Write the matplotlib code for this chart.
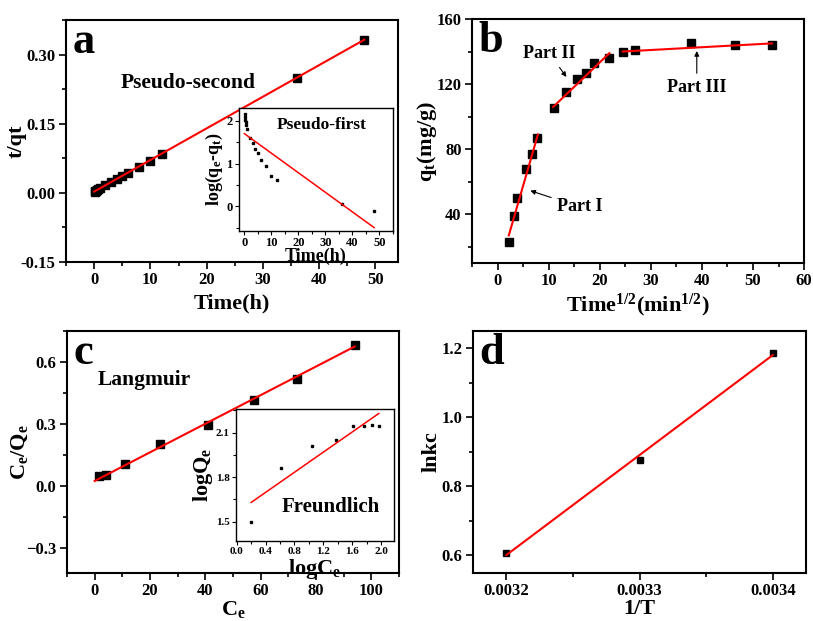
import matplotlib
matplotlib.use("Agg")
import matplotlib.pyplot as plt
from matplotlib.ticker import MultipleLocator
import numpy as np

plt.rcParams['font.family'] = ['Liberation Serif', 'DejaVu Serif']
plt.rcParams['font.weight'] = 'bold'
plt.rcParams['axes.labelweight'] = 'bold'
plt.rcParams['mathtext.fontset'] = 'custom'
plt.rcParams['mathtext.rm'] = 'Liberation Serif:bold'
plt.rcParams['mathtext.it'] = 'Liberation Serif:bold'
plt.rcParams['mathtext.bf'] = 'Liberation Serif:bold'
plt.rcParams['mathtext.default'] = 'rm'

###############################################################################
# données

# a) cinétique pseudo-second ordre
t_h = [0.083, 0.167, 0.25, 0.5, 0.75, 1, 2, 3, 4, 5, 6, 8, 10, 12, 36, 48]
t_qt = [0.003, 0.004, 0.005, 0.006, 0.008, 0.010, 0.017, 0.024, 0.030, 0.036,
        0.043, 0.057, 0.070, 0.084, 0.250, 0.333]
fit2_x = [0, 48]
fit2_y = [0.003, 0.333]

# encart a) pseudo-premier ordre
log_qe_qt = [2.15, 2.1, 2.03, 1.97, 1.9, 1.8, 1.6, 1.48, 1.35, 1.25,
             1.08, 0.95, 0.70, 0.62, 0.05, -0.10]
fit1_x = [0, 48]
fit1_y = [1.70, -0.50]

# b) diffusion intra-particulaire
sqrt_t = [2.24, 3.16, 3.87, 5.48, 6.71, 7.75, 10.95, 13.42, 15.49, 17.32,
          18.97, 21.91, 24.49, 26.83, 37.95, 46.48, 53.67]
qt = [23, 39, 50, 68, 77, 87, 105, 115, 123, 127, 133, 136, 140, 141, 145, 144, 144]
part1_x = [2.2, 7.9]
part1_y = [27, 89]
part2_x = [10.9, 21.9]
part2_y = [106, 139]
part3_x = [24.5, 53.7]
part3_y = [140, 145]

# c) Langmuir
ce = [1.5, 4, 11, 23.5, 41, 57.5, 73, 94]
ce_qe = [0.05, 0.055, 0.105, 0.205, 0.295, 0.415, 0.52, 0.68]
lang_x = [0, 94]
lang_y = [0.025, 0.675]

# encart c) Freundlich
log_ce = [0.2, 0.61, 1.04, 1.37, 1.61, 1.76, 1.87, 1.97]
log_qe = [1.50, 1.86, 2.01, 2.05, 2.145, 2.145, 2.15, 2.145]
freu_x = [0.2, 1.97]
freu_y = [1.63, 2.23]

# d) thermodynamique
inv_T = [0.0032, 0.0033, 0.0034]
lnkc = [0.605, 0.877, 1.186]
vh_x = [0.0032, 0.0034]
vh_y = [0.600, 1.180]

###############################################################################

def style(ax, lw=1.5, size=12, major=5, minor=3, pad=3.5):
    for s in ax.spines.values():
        s.set_linewidth(lw)
    ax.tick_params(which='both', direction='out', top=False, right=False,
                   width=lw * 0.8, labelsize=size, pad=pad)
    ax.tick_params(which='major', length=major)
    ax.tick_params(which='minor', length=minor)

fig = plt.figure(figsize=(8.13, 6.21), dpi=100)

# ---- a
ax = fig.add_axes([0.0812, 0.5781, 0.4083, 0.3897])
ax.plot(t_h, t_qt, 's', color='k', ms=6)
ax.plot(fit2_x, fit2_y, color='red', lw=1.5)
ax.set_xlim(-5, 54)
ax.set_ylim(-0.15, 0.376)
ax.xaxis.set_major_locator(MultipleLocator(10))
ax.xaxis.set_minor_locator(MultipleLocator(5))
ax.yaxis.set_minor_locator(MultipleLocator(0.075))
ax.set_yticks([-0.15, 0.0, 0.15, 0.30])
ax.set_yticklabels(['-0.15', '0.00', '0.15', '0.30'])
style(ax, pad=2.5)
ax.set_xlabel('Time(h)', fontsize=16)
ax.set_ylabel('t/qt', fontsize=16)
ax.yaxis.set_label_coords(-0.12, 0.5)
ax.text(0.02, 0.99, 'a', transform=ax.transAxes, fontsize=32, va='top')
ax.text(16.8, 0.24, 'Pseudo-second', fontsize=15.5, ha='center', va='center')

ins = fig.add_axes([0.294, 0.628, 0.1894, 0.198])
ins.plot(t_h, log_qe_qt, 's', color='k', ms=1.8)
ins.plot(fit1_x, fit1_y, color='red', lw=1.1)
ins.set_xlim(-2, 55)
ins.set_ylim(-0.58, 2.3)
ins.xaxis.set_major_locator(MultipleLocator(10))
ins.xaxis.set_minor_locator(MultipleLocator(5))
ins.yaxis.set_major_locator(MultipleLocator(1))
ins.yaxis.set_minor_locator(MultipleLocator(0.5))
style(ins, lw=1.0, size=9, major=3, minor=2, pad=1.5)
ins.set_xlabel('Time(h)', fontsize=13, labelpad=-1)
ins.set_ylabel('log(q$_e$-q$_t$)', fontsize=13, labelpad=1)
ins.text(28.4, 1.9, 'Pseudo-first', fontsize=12.5, ha='center', va='center')

# ---- b
ax = fig.add_axes([0.5806, 0.5765, 0.4084, 0.3929])
ax.plot(sqrt_t, qt, 's', color='k', ms=6)
for xx, yy in [(part1_x, part1_y), (part2_x, part2_y), (part3_x, part3_y)]:
    ax.plot(xx, yy, color='red', lw=1.5)
ax.set_xlim(-5, 60)
ax.set_ylim(10, 160)
ax.xaxis.set_major_locator(MultipleLocator(10))
ax.xaxis.set_minor_locator(MultipleLocator(5))
ax.yaxis.set_major_locator(MultipleLocator(40))
ax.yaxis.set_minor_locator(MultipleLocator(20))
style(ax, pad=2.5)
ax.set_xlabel('Time$^{1/2}$(min$^{1/2}$)', fontsize=16, labelpad=2)
ax.set_ylabel('q$_t$(mg/g)', fontsize=16)
ax.yaxis.set_label_coords(-0.1, 0.5)
ax.text(0.02, 0.99, 'b', transform=ax.transAxes, fontsize=32, va='top')
arr = dict(arrowstyle='-|>', color='k', lw=0.8, mutation_scale=7)
ax.annotate('Part I', xy=(5.9, 55), xytext=(16, 44.5), fontsize=13,
            ha='center', va='center', arrowprops=arr)
ax.annotate('Part II', xy=(13.8, 123), xytext=(10.2, 138.5), fontsize=13,
            ha='center', va='center', arrowprops=arr)
ax.annotate('Part III', xy=(39, 142), xytext=(39, 118), fontsize=13,
            ha='center', va='center', arrowprops=arr)

# ---- c
ax = fig.add_axes([0.0824, 0.0773, 0.4084, 0.3897])
ax.plot(ce, ce_qe, 's', color='k', ms=6)
ax.plot(lang_x, lang_y, color='red', lw=1.5)
ax.set_xlim(-10, 110)
ax.set_ylim(-0.42, 0.75)
ax.xaxis.set_major_locator(MultipleLocator(20))
ax.xaxis.set_minor_locator(MultipleLocator(10))
ax.yaxis.set_major_locator(MultipleLocator(0.3))
ax.yaxis.set_minor_locator(MultipleLocator(0.15))
style(ax, pad=2.5)
ax.set_xlabel('C$_e$', fontsize=16, labelpad=0)
ax.set_ylabel('C$_e$/Q$_e$', fontsize=16)
ax.yaxis.set_label_coords(-0.11, 0.5)
ax.text(0.02, 0.99, 'c', transform=ax.transAxes, fontsize=32, va='top')
ax.text(18, 0.513, 'Langmuir', fontsize=15.5, ha='center', va='center')

ins = fig.add_axes([0.2903, 0.1288, 0.1943, 0.2126])
ins.plot(log_ce, log_qe, 's', color='k', ms=2)
ins.plot(freu_x, freu_y, color='red', lw=1.1)
ins.set_xlim(-0.01, 2.18)
ins.set_ylim(1.37, 2.26)
ins.xaxis.set_major_locator(MultipleLocator(0.4))
ins.xaxis.set_minor_locator(MultipleLocator(0.2))
ins.yaxis.set_major_locator(MultipleLocator(0.3))
ins.yaxis.set_minor_locator(MultipleLocator(0.15))
style(ins, lw=1.0, size=8, major=3, minor=2, pad=1.5)
ins.set_xlabel('logC$_e$', fontsize=16, labelpad=0.5)
ins.set_ylabel('logQ$_e$', fontsize=16, labelpad=1)
ins.text(1.31, 1.60, 'Freundlich', fontsize=15, ha='center', va='center')

# ---- d
ax = fig.add_axes([0.5818, 0.0773, 0.4096, 0.3897])
ax.plot(inv_T, lnkc, 's', color='k', ms=5)
ax.plot(vh_x, vh_y, color='red', lw=1.5)
ax.set_xlim(0.003175, 0.003425)
ax.set_ylim(0.548, 1.25)
ax.set_xticks([0.0032, 0.0033, 0.0034])
ax.set_xticklabels(['0.0032', '0.0033', '0.0034'])
ax.xaxis.set_minor_locator(MultipleLocator(0.00005))
ax.yaxis.set_major_locator(MultipleLocator(0.2))
ax.yaxis.set_minor_locator(MultipleLocator(0.1))
style(ax, pad=2.5)
ax.set_xlabel('1/T', fontsize=16, labelpad=0)
ax.set_ylabel('lnkc', fontsize=16)
ax.yaxis.set_label_coords(-0.093, 0.5)
ax.text(0.02, 0.99, 'd', transform=ax.transAxes, fontsize=32, va='top')

fig.savefig('out.png', dpi=100)
